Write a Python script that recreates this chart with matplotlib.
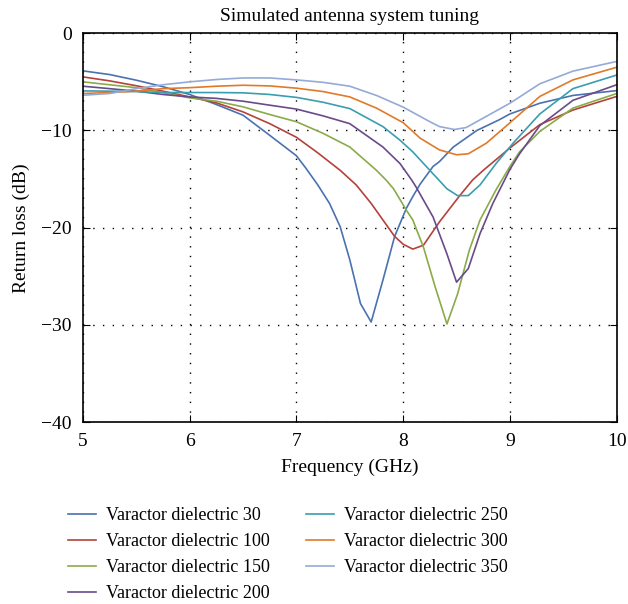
import matplotlib
matplotlib.use("Agg")
import matplotlib.pyplot as plt

plt.rcParams['font.family'] = ['Liberation Serif', 'DejaVu Serif']

# frequency (GHz) / return loss (dB) pairs, per series
freq_30 = [5.0, 5.25, 5.5, 5.75, 6.0, 6.25, 6.5, 6.75, 7.0, 7.09, 7.2, 7.31, 7.41, 7.5, 7.6, 7.7,
           7.81, 7.92, 8.03, 8.09, 8.16, 8.28, 8.34, 8.47, 8.69, 8.9, 9.0, 9.28, 9.59, 10.0]
rl_30 = [-3.87, -4.25, -4.83, -5.5, -6.3, -7.33, -8.43, -10.5, -12.6, -13.9, -15.6, -17.5, -19.9,
         -23.3, -27.8, -29.7, -25.4, -20.9, -18.0, -16.8, -15.5, -13.7, -13.2, -11.7, -10.0, -8.9,
         -8.3, -7.2, -6.4, -5.9]

freq_100 = [5.0, 5.25, 5.5, 5.75, 6.0, 6.25, 6.5, 6.75, 7.0, 7.2, 7.41, 7.5, 7.56, 7.7, 7.81,
            7.92, 8.0, 8.09, 8.19, 8.34, 8.53, 8.65, 8.75, 9.0, 9.28, 9.59, 10.0]
rl_100 = [-4.49, -4.9, -5.4, -5.96, -6.55, -7.16, -8.09, -9.3, -10.7, -12.3, -14.1, -15.0, -15.6,
          -17.5, -19.2, -20.9, -21.7, -22.2, -21.8, -19.4, -16.7, -15.1, -14.1, -11.8, -9.4, -7.9, -6.5]

freq_150 = [5.0, 5.25, 5.5, 5.75, 6.0, 6.25, 6.5, 6.75, 7.0, 7.25, 7.5, 7.75, 7.84, 7.91, 8.03,
            8.09, 8.19, 8.30, 8.41, 8.51, 8.62, 8.72, 8.87, 9.0, 9.09, 9.28, 9.59, 10.0]
rl_150 = [-5.0, -5.3, -5.6, -6.1, -6.65, -6.99, -7.57, -8.36, -9.1, -10.3, -11.7, -14.1, -15.1,
          -16.0, -18.2, -19.2, -22.0, -26.1, -29.9, -26.8, -22.3, -19.2, -16.1, -13.7, -12.2,
          -10.1, -7.7, -6.2]

freq_200 = [5.0, 5.25, 5.5, 5.75, 6.0, 6.25, 6.5, 6.75, 7.0, 7.25, 7.5, 7.81, 7.97, 8.08, 8.12,
            8.28, 8.41, 8.50, 8.61, 8.72, 8.84, 9.0, 9.09, 9.28, 9.59, 10.0]
rl_200 = [-5.45, -5.7, -5.96, -6.3, -6.55, -6.7, -6.99, -7.4, -7.8, -8.5, -9.3, -11.7, -13.4,
          -15.1, -15.8, -18.9, -22.7, -25.6, -24.2, -20.6, -17.5, -14.0, -12.4, -9.5, -6.9, -5.3]

freq_250 = [5.0, 5.25, 5.5, 5.75, 6.0, 6.25, 6.5, 6.75, 7.0, 7.25, 7.5, 7.81, 7.97, 8.09, 8.25,
            8.41, 8.51, 8.61, 8.72, 8.87, 9.03, 9.28, 9.59, 10.0]
rl_250 = [-5.93, -5.96, -6.0, -6.1, -6.1, -6.1, -6.13, -6.3, -6.6, -7.1, -7.75, -9.6, -11.0,
          -12.2, -14.1, -16.0, -16.7, -16.7, -15.6, -13.4, -11.3, -8.3, -5.7, -4.3]

freq_300 = [5.0, 5.25, 5.5, 5.75, 6.0, 6.25, 6.5, 6.75, 7.0, 7.25, 7.5, 7.75, 8.0, 8.16, 8.34,
            8.5, 8.61, 8.78, 8.98, 9.28, 9.59, 10.0]
rl_300 = [-6.2, -6.1, -5.96, -5.7, -5.6, -5.45, -5.35, -5.42, -5.65, -6.0, -6.55, -7.7, -9.2,
          -10.8, -12.0, -12.5, -12.4, -11.3, -9.4, -6.5, -4.8, -3.5]

freq_350 = [5.0, 5.25, 5.5, 5.75, 6.0, 6.25, 6.5, 6.75, 7.0, 7.25, 7.5, 7.75, 8.0, 8.25, 8.34,
            8.48, 8.59, 9.0, 9.28, 9.59, 10.0]
rl_350 = [-6.38, -6.2, -5.7, -5.3, -5.0, -4.76, -4.6, -4.6, -4.8, -5.05, -5.45, -6.4, -7.6,
          -9.1, -9.6, -9.9, -9.7, -7.2, -5.2, -3.9, -2.9]

labels = ["Varactor dielectric 30", "Varactor dielectric 100", "Varactor dielectric 150",
          "Varactor dielectric 200", "Varactor dielectric 250", "Varactor dielectric 300",
          "Varactor dielectric 350"]
colors = ["#4a72b0", "#b5413c", "#8aab4a", "#6a4a8a", "#3a9db0", "#e07a2a", "#95aad6"]

series = [(freq_30, rl_30), (freq_100, rl_100), (freq_150, rl_150), (freq_200, rl_200),
          (freq_250, rl_250), (freq_300, rl_300), (freq_350, rl_350)]

fig = plt.figure(figsize=(6.28, 6.04), dpi=100)
ax = fig.add_axes([0.132, 0.301, 0.850, 0.644])

for (f, r), lab, c in zip(series, labels, colors):
    ax.plot(f, r, color=c, lw=1.2, label=lab)

ax.set_xlim(5, 10)
ax.set_ylim(-40, 0)
ax.set_xticks([5, 6, 7, 8, 9, 10])
ax.set_yticks([0, -10, -20, -30, -40])
ax.grid(True, color="black", linestyle=(0, (1, 6)), linewidth=1.0)
ax.tick_params(direction="in", top=True, right=True, labelsize=14, length=5, pad=8)
for s in ax.spines.values():
    s.set_linewidth(1.2)

ax.set_title("Simulated antenna system tuning", fontsize=14, pad=9)
ax.set_xlabel("Frequency (GHz)", fontsize=14, labelpad=6)
ax.set_ylabel("Return loss (dB)", fontsize=14, labelpad=8)

fig.legend(loc="upper left", bbox_to_anchor=(0.097, 0.172), ncol=2, frameon=False,
           fontsize=13, handlelength=1.55, handletextpad=0.55, columnspacing=2.0,
           labelspacing=0.5, borderaxespad=0)

fig.savefig("out.png", dpi=100)
